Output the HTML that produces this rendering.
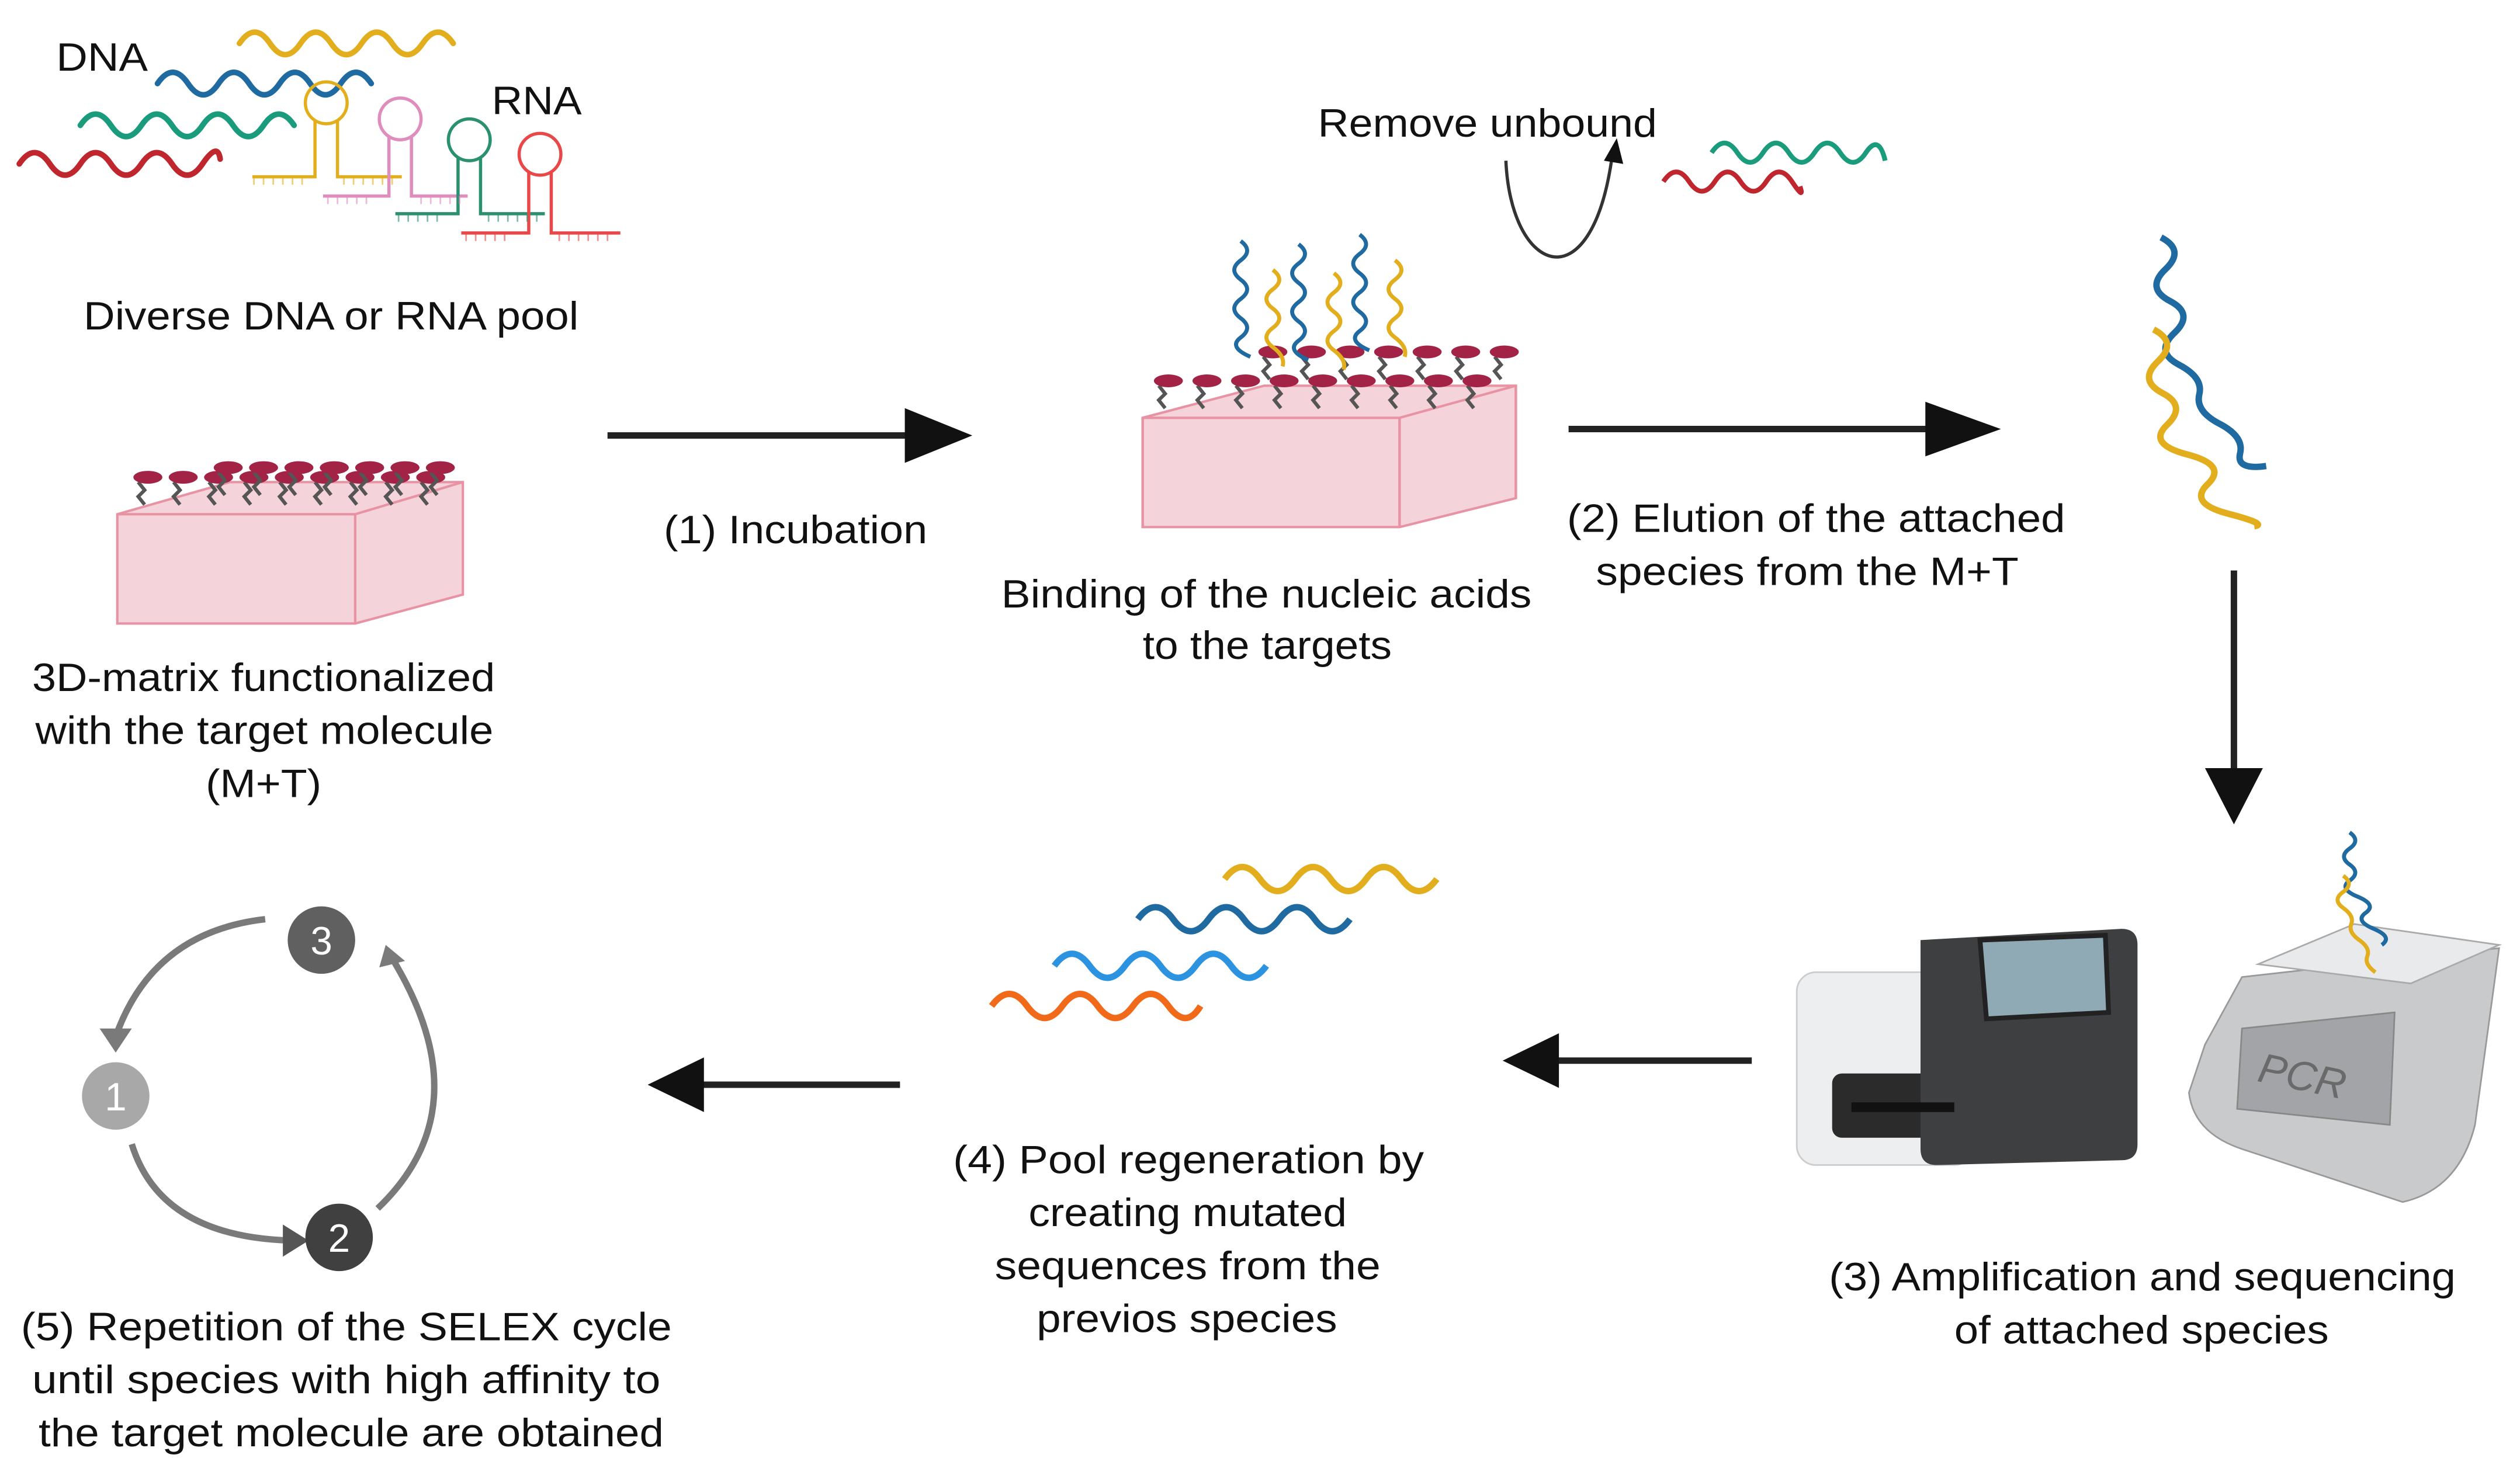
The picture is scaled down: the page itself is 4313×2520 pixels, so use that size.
<!DOCTYPE html>
<html><head><meta charset="utf-8"><style>
html,body{margin:0;padding:0;background:#fff;}
svg{display:block;}
text{font-family:"Liberation Sans",Arial,sans-serif;fill:#111;font-size:24.5px;}
</style></head><body>
<svg width="4313" height="2520" viewBox="0 0 1568 916" preserveAspectRatio="none" xmlns="http://www.w3.org/2000/svg">
<defs>
<g id="probe"><path d="M0 14 l-4 -5 4 -4 -4 -5" stroke="#555" stroke-width="2.2" fill="none"/><ellipse cx="2" cy="-3" rx="9" ry="4" fill="#a32346"/></g>
<g id="matrix">
<polygon points="0,28 70,8 215,8 215,78 148,96 0,96" fill="#f4d3da" stroke="#e893a3" stroke-width="1.5"/>
<polyline points="0,28 148,28 215,8" fill="none" stroke="#e893a3" stroke-width="1.5"/>
<line x1="148" y1="28" x2="148" y2="96" stroke="#e893a3" stroke-width="1.5"/>
</g>
</defs>

<!-- DNA strands -->
<g fill="none" stroke-width="3.5" stroke-linecap="round">
<path d="M149 27 q9.5 -14 19 0 t19 0 t19 0 t19 0 t19 0 t19 0 t19 0" stroke="#e3ae1d"/>
<path d="M98 52 q9.5 -14 19 0 t19 0 t19 0 t19 0 t19 0 t19 0 t19 0" stroke="#1f6aa0"/>
<path d="M50 78 q9.5 -14 19 0 t19 0 t19 0 t19 0 t19 0 t19 0 t19 0" stroke="#1a9b7c"/>
<path d="M12 102 q9.5 -14 19 0 t19 0 t19 0 t19 0 t19 0 t19 0 t11 -3" stroke="#c0262d"/>
</g>
<text x="35" y="44" textLength="57" lengthAdjust="spacingAndGlyphs">DNA</text>
<text x="306" y="71" textLength="56" lengthAdjust="spacingAndGlyphs">RNA</text>
<!-- RNA hairpins -->
<g fill="none" stroke-width="2">
<g stroke="#e3ae1d"><circle cx="203" cy="64" r="13"/><path d="M196 75 V110 H157 M210 75 V110 H250"/></g>
<g stroke="#e08cbd"><circle cx="249" cy="74" r="13"/><path d="M242 85 V122 H201 M256 85 V122 H291"/></g>
<g stroke="#2a9070"><circle cx="292" cy="87" r="13"/><path d="M285 98 V133 H246 M299 98 V133 H339"/></g>
<g stroke="#e94848"><circle cx="336" cy="96" r="13"/><path d="M329 107 V145 H287 M343 107 V145 H386"/></g>
</g>
<g stroke-width="1" opacity="0.6">
<path d="M158 110 v5 M164 110 v5 M170 110 v5 M176 110 v5 M182 110 v5 M188 110 v5 M214 110 v5 M220 110 v5 M226 110 v5 M232 110 v5 M238 110 v5 M244 110 v5" stroke="#e3ae1d"/>
<path d="M204 122 v5 M210 122 v5 M216 122 v5 M222 122 v5 M228 122 v5 M262 122 v5 M268 122 v5 M274 122 v5 M280 122 v5 M286 122 v5" stroke="#e08cbd"/>
<path d="M248 133 v5 M254 133 v5 M260 133 v5 M266 133 v5 M272 133 v5 M304 133 v5 M310 133 v5 M316 133 v5 M322 133 v5 M328 133 v5 M334 133 v5" stroke="#2a9070"/>
<path d="M290 145 v5 M296 145 v5 M302 145 v5 M308 145 v5 M314 145 v5 M348 145 v5 M354 145 v5 M360 145 v5 M366 145 v5 M372 145 v5 M378 145 v5" stroke="#e94848"/>
</g>
<text x="52" y="205" textLength="308" lengthAdjust="spacingAndGlyphs">Diverse  DNA or RNA pool</text>

<!-- left matrix -->
<g transform="translate(73,292)"><use href="#matrix"/></g>
<g transform="translate(90,300)"><use href="#probe" x="0"/><use href="#probe" x="22"/><use href="#probe" x="44"/><use href="#probe" x="66"/><use href="#probe" x="88"/><use href="#probe" x="110"/><use href="#probe" x="132"/><use href="#probe" x="154"/><use href="#probe" x="176"/></g>
<g transform="translate(140,300)"><use href="#probe" x="0" y="-6"/><use href="#probe" x="22" y="-6"/><use href="#probe" x="44" y="-6"/><use href="#probe" x="66" y="-6"/><use href="#probe" x="88" y="-6"/><use href="#probe" x="110" y="-6"/><use href="#probe" x="132" y="-6"/></g>
<text x="20" y="430" textLength="288" lengthAdjust="spacingAndGlyphs">3D-matrix functionalized</text>
<text x="22" y="463" textLength="285" lengthAdjust="spacingAndGlyphs">with the target molecule</text>
<text x="128" y="496" textLength="72" lengthAdjust="spacingAndGlyphs">(M+T)</text>

<!-- arrow 1 -->
<line x1="378" y1="271" x2="570" y2="271" stroke="#222" stroke-width="4"/>
<polygon points="563,254 605,271 563,288" fill="#111"/>
<text x="413" y="338" textLength="164" lengthAdjust="spacingAndGlyphs">(1) Incubation</text>

<!-- middle matrix -->
<g transform="translate(711,232) scale(1.08,1)"><use href="#matrix"/></g>
<g transform="translate(725,240)"><use href="#probe" x="0"/><use href="#probe" x="24"/><use href="#probe" x="48"/><use href="#probe" x="72"/><use href="#probe" x="96"/><use href="#probe" x="120"/><use href="#probe" x="144"/><use href="#probe" x="168"/><use href="#probe" x="192"/></g>
<g transform="translate(790,222)"><use href="#probe" x="0"/><use href="#probe" x="24"/><use href="#probe" x="48"/><use href="#probe" x="72"/><use href="#probe" x="96"/><use href="#probe" x="120"/><use href="#probe" x="144"/></g>
<g fill="none" stroke-width="2.5">
<path d="M772 150 q8 6 0 12 t0 12 t0 12 t0 12 t0 12 t6 12" stroke="#1f6aa0"/>
<path d="M808 152 q8 6 0 12 t0 12 t0 12 t0 12 t0 12 t6 12" stroke="#1f6aa0"/>
<path d="M846 146 q8 6 0 12 t0 12 t0 12 t0 12 t0 12 t6 12" stroke="#1f6aa0"/>
<path d="M792 168 q8 6 0 12 t0 12 t0 12 t0 12 t6 12" stroke="#e3ae1d"/>
<path d="M830 170 q8 6 0 12 t0 12 t0 12 t0 12 t6 12" stroke="#e3ae1d"/>
<path d="M868 162 q8 6 0 12 t0 12 t0 12 t0 12 t6 12" stroke="#e3ae1d"/>
</g>
<text x="623" y="378" textLength="330" lengthAdjust="spacingAndGlyphs">Binding of the nucleic acids</text>
<text x="711" y="410" textLength="155" lengthAdjust="spacingAndGlyphs">to the targets</text>

<!-- remove unbound -->
<text x="820" y="85" textLength="211" lengthAdjust="spacingAndGlyphs">Remove  unbound</text>
<path d="M937 100 C940 170 990 190 1003 98" fill="none" stroke="#333" stroke-width="2"/>
<polygon points="998,100 1006,86 1010,102" fill="#111"/>
<g fill="none" stroke-width="3">
<path d="M1065 95 q8 -12 16 0 t16 0 t16 0 t16 0 t16 0 t16 0 t12 5" stroke="#1a9b7c"/>
<path d="M1035 113 q8 -12 16 0 t16 0 t16 0 t16 0 t16 0 t5 3" stroke="#c0262d"/>
</g>

<!-- arrow 2 -->
<line x1="976" y1="267" x2="1205" y2="267" stroke="#222" stroke-width="4"/>
<polygon points="1198,250 1245,267 1198,284" fill="#111"/>
<text x="975" y="331" textLength="310" lengthAdjust="spacingAndGlyphs">(2) Elution of the attached</text>
<text x="993" y="364" textLength="263" lengthAdjust="spacingAndGlyphs">species from the M+T</text>

<!-- eluted strands -->
<g fill="none" stroke-width="4">
<path d="M1345 147 q14 10 0 20 t0 20 t0 20 t0 20 t10 20 t10 20 t10 20 t15 10" stroke="#1f6aa0" transform="rotate(-8 1350 150)"/>
<path d="M1340 205 q14 10 0 20 t0 20 t0 20 t10 20 t10 20 t10 20 t15 10" stroke="#e3ae1d" transform="rotate(-8 1340 205)"/>
</g>
<!-- down arrow -->
<line x1="1390" y1="355" x2="1390" y2="480" stroke="#222" stroke-width="4"/>
<polygon points="1372,478 1390,513 1408,478" fill="#111"/>

<!-- sequencer -->
<rect x="1118" y="605" width="110" height="120" rx="12" fill="#eceeef" stroke="#ccc"/>
<rect x="1140" y="668" width="80" height="40" rx="6" fill="#2b2b2b"/>
<path d="M1195 585 L1320 578 Q1330 578 1330 588 L1330 712 Q1330 722 1320 722 L1205 725 Q1195 725 1195 715 Z" fill="#3e3f41"/>
<polygon points="1232,585 1310,582 1312,630 1236,634" fill="#8fa9b5" stroke="#222" stroke-width="3"/>
<rect x="1152" y="686" width="64" height="6" fill="#111"/>
<!-- PCR -->
<path d="M1372 650 L1395 608 L1555 590 L1540 700 Q1530 740 1495 748 L1395 715 Q1365 705 1362 680 Z" fill="#c9cacc" stroke="#999"/>
<polygon points="1405,600 1465,575 1555,588 1500,612" fill="#e9eaec" stroke="#aaa"/>
<polygon points="1395,640 1490,630 1487,700 1392,690" fill="#a2a4a7" stroke="#888"/>
<text x="1405" y="678" transform="rotate(12 1430 670)" style="fill:#6a6a6a;font-style:italic;font-size:26px">PCR</text>
<g fill="none" stroke-width="2.5">
<path d="M1462 518 q7 5 0 10 t0 10 t0 10 t5 10 t5 10 t5 10 t5 10" stroke="#1f6aa0"/>
<path d="M1458 545 q7 5 0 10 t0 10 t5 10 t5 10 t5 10 t5 10" stroke="#e3ae1d"/>
</g>
<text x="1138" y="803" textLength="390" lengthAdjust="spacingAndGlyphs">(3) Amplification and sequencing</text>
<text x="1216" y="836" textLength="233" lengthAdjust="spacingAndGlyphs">of attached species</text>

<!-- arrow 3->4 -->
<line x1="965" y1="660" x2="1090" y2="660" stroke="#222" stroke-width="4"/>
<polygon points="970,643 935,660 970,677" fill="#111"/>

<!-- regenerated pool -->
<g fill="none" stroke-width="4">
<path d="M762 547 q11 -15 22 0 t22 0 t22 0 t22 0 t22 0 t22 0" stroke="#e3ae1d"/>
<path d="M708 572 q11 -15 22 0 t22 0 t22 0 t22 0 t22 0 t22 0" stroke="#1f6aa0"/>
<path d="M656 601 q11 -15 22 0 t22 0 t22 0 t22 0 t22 0 t22 0" stroke="#2b93e0"/>
<path d="M617 626 q11 -15 22 0 t22 0 t22 0 t22 0 t22 0 t20 0" stroke="#f06a1a"/>
</g>
<text x="593" y="730" textLength="293" lengthAdjust="spacingAndGlyphs">(4) Pool regeneration by</text>
<text x="640" y="763" textLength="198" lengthAdjust="spacingAndGlyphs">creating mutated</text>
<text x="619" y="796" textLength="240" lengthAdjust="spacingAndGlyphs">sequences from the</text>
<text x="645" y="829" textLength="187" lengthAdjust="spacingAndGlyphs">previos species</text>

<!-- arrow 4->5 -->
<line x1="435" y1="675" x2="560" y2="675" stroke="#222" stroke-width="4"/>
<polygon points="438,658 403,675 438,692" fill="#111"/>

<!-- cycle -->
<g fill="none" stroke="#7a7a7a" stroke-width="4">
<path d="M165 572 Q95 580 72 645"/>
<path d="M82 712 Q100 770 182 772"/>
<path d="M235 752 Q300 690 245 598"/>
</g>
<polygon points="62,640 72,655 82,640" fill="#7a7a7a"/>
<polygon points="176,762 192,772 176,782" fill="#555"/>
<polygon points="236,602 240,588 252,598" fill="#7a7a7a"/>
<circle cx="200" cy="585" r="21" fill="#606060"/><text x="200" y="594" text-anchor="middle" style="fill:#fff">3</text>
<circle cx="72" cy="682" r="21" fill="#a8a8a8"/><text x="72" y="691" text-anchor="middle" style="fill:#fff">1</text>
<circle cx="211" cy="770" r="21" fill="#404040"/><text x="211" y="779" text-anchor="middle" style="fill:#fff">2</text>
<text x="13" y="834" textLength="405" lengthAdjust="spacingAndGlyphs">(5) Repetition of the SELEX cycle</text>
<text x="20" y="867" textLength="391" lengthAdjust="spacingAndGlyphs">until species with high affinity to</text>
<text x="24" y="900" textLength="389" lengthAdjust="spacingAndGlyphs">the target molecule are obtained</text>
</svg>
</body></html>
